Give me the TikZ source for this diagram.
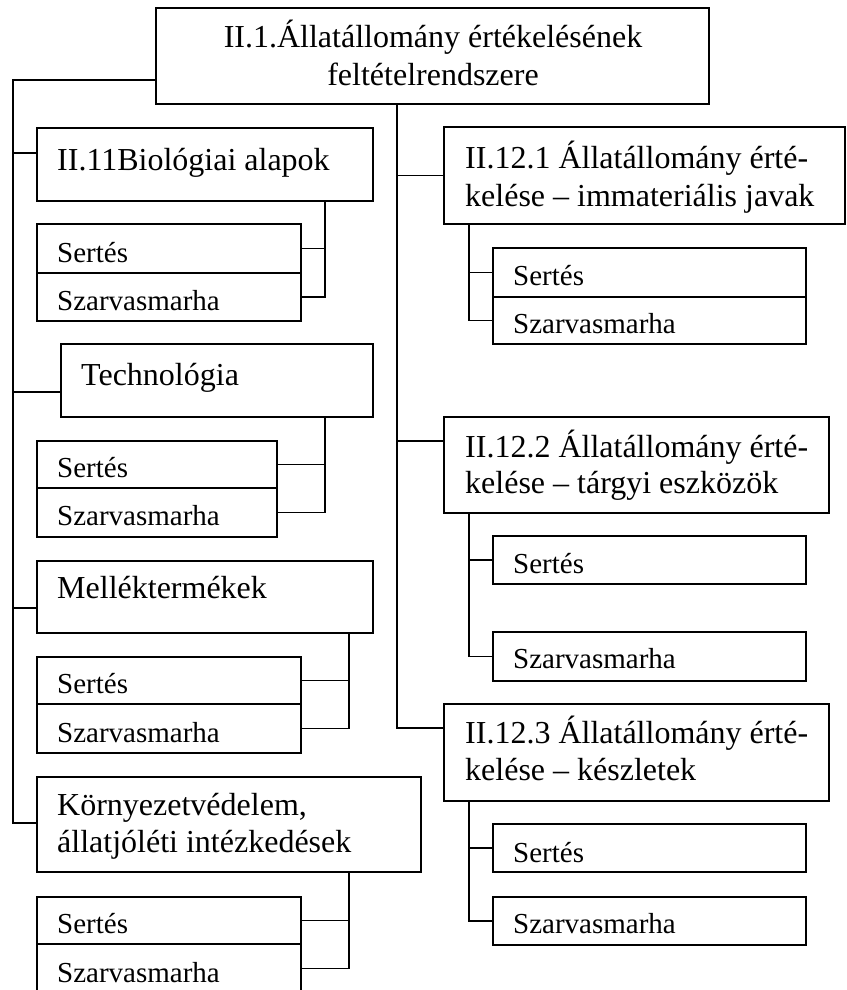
\documentclass[tikz,border=0pt]{standalone}
\usepackage{fontspec}
\setmainfont{Liberation Serif}
% framed box given by its upper left and lower right corners
\newcommand{\pbox}[5]{\node[frame, minimum width={#4pt-#2pt}, minimum height={#5pt-#3pt}] (#1) at (#2,#3) {};}
\begin{document}
\begin{tikzpicture}[x=1pt,y=-1pt,
  frame/.style={draw, line width=1.8pt, inner sep=0pt, outer sep=0pt, anchor=north west},
  wire/.style={line width=1.8pt},
  head/.style={inner sep=0pt, anchor=base west, font=\fontsize{32}{37}\selectfont},
  sub/.style={inner sep=0pt, anchor=base west, font=\fontsize{29}{34}\selectfont}]
\useasboundingbox (0,0) rectangle (846,990);

% root
\pbox{root}{156}{8}{709}{104}
\node[head, anchor=base] (rootA) at (433,48) {II.1.Állatállomány értékelésének};
\node[head, anchor=base] (rootB) at (433,85) {feltételrendszere};

% left column
\pbox{bio}{37}{128}{373}{201}
\pbox{bioS}{37}{224}{301}{273}
\pbox{bioZ}{37}{273}{301}{321}
\pbox{tech}{61}{344}{373}{417}
\pbox{techS}{37}{441}{277}{488}
\pbox{techZ}{37}{488}{277}{537}
\pbox{mell}{37}{561}{373}{633}
\pbox{mellS}{37}{657}{301}{704}
\pbox{mellZ}{37}{704}{301}{753}
\pbox{korny}{37}{777}{421}{872}
\pbox{kornyS}{37}{897}{301}{944}
\pbox{kornyZ}{37}{944}{301}{993}

\node[head] (bioT) at (57,170) {II.11Biológiai alapok};
\node[sub] (bioST) at (57,262) {Sertés};
\node[sub] (bioZT) at (57,310) {Szarvasmarha};
\node[head] (techT) at (81,385) {Technológia};
\node[sub] (techST) at (57,477) {Sertés};
\node[sub] (techZT) at (57,525) {Szarvasmarha};
\node[head] (mellT) at (57,598) {Melléktermékek};
\node[sub] (mellST) at (57,693) {Sertés};
\node[sub] (mellZT) at (57,742) {Szarvasmarha};
\node[head] (kornyTA) at (57,815) {Környezetvédelem,};
\node[head] (kornyTB) at (57,852) {állatjóléti intézkedések};
\node[sub] (kornyST) at (57,933) {Sertés};
\node[sub] (kornyZT) at (57,982) {Szarvasmarha};

% right column
\pbox{ra}{444}{127}{845}{224}
\pbox{raS}{493}{248}{806}{297}
\pbox{raZ}{493}{297}{806}{344}
\pbox{rb}{444}{417}{829}{513}
\pbox{rbS}{493}{536}{806}{584}
\pbox{rbZ}{493}{632}{806}{681}
\pbox{rc}{444}{704}{829}{801}
\pbox{rcS}{493}{824}{806}{872}
\pbox{rcZ}{493}{897}{806}{945}

\node[head] (raTA) at (465,168) {II.12.1 Állatállomány érté-};
\node[head] (raTB) at (465,206) {kelése – immateriális javak};
\node[sub] (raST) at (513,285) {Sertés};
\node[sub] (raZT) at (513,333) {Szarvasmarha};
\node[head] (rbTA) at (465,457) {II.12.2 Állatállomány érté-};
\node[head] (rbTB) at (465,493) {kelése – tárgyi eszközök};
\node[sub] (rbST) at (513,573) {Sertés};
\node[sub] (rbZT) at (513,668) {Szarvasmarha};
\node[head] (rcTA) at (465,743) {II.12.3 Állatállomány érté-};
\node[head] (rcTB) at (465,780) {kelése – készletek};
\node[sub] (rcST) at (513,862) {Sertés};
\node[sub] (rcZT) at (513,933) {Szarvasmarha};

% trunk lines
\coordinate (trunkL) at (13,80);
\coordinate (trunkR) at (397,0);
\draw[wire] (root.west |- trunkL) -- (trunkL) -- (trunkL |- 0,823) -- (korny.west |- 0,823);
\draw[wire] (trunkL |- 0,153) -- (bio.west |- 0,153);
\draw[wire] (trunkL |- 0,392) -- (tech.west |- 0,392);
\draw[wire] (trunkL |- 0,608) -- (mell.west |- 0,608);
\draw[wire] (root.south -| trunkR) -- (trunkR |- 0,728) -- (rc.west |- 0,728);
\draw[wire] (trunkR |- ra.west) -- (ra.west);
\draw[wire] (trunkR |- 0,441) -- (rb.west |- 0,441);

% brackets to the two species boxes
\coordinate (spA) at (325,0);
\coordinate (spB) at (349,0);
\coordinate (spR) at (469,0);
\draw[wire] (bio.south -| spA) |- (bioZ.east);
\draw[wire] (spA |- bioS.east) -- (bioS.east);
\draw[wire] (tech.south -| spA) |- (techZ.east);
\draw[wire] (spA |- techS.east) -- (techS.east);
\draw[wire] (mell.south -| spB) |- (mellZ.east);
\draw[wire] (spB |- mellS.east) -- (mellS.east);
\draw[wire] (korny.south -| spB) |- (kornyZ.east);
\draw[wire] (spB |- kornyS.east) -- (kornyS.east);
\draw[wire] (ra.south -| spR) |- (raZ.west);
\draw[wire] (spR |- raS.west) -- (raS.west);
\draw[wire] (rb.south -| spR) |- (rbZ.west);
\draw[wire] (spR |- rbS.west) -- (rbS.west);
\draw[wire] (rc.south -| spR) |- (rcZ.west);
\draw[wire] (spR |- rcS.west) -- (rcS.west);
\end{tikzpicture}
\end{document}
